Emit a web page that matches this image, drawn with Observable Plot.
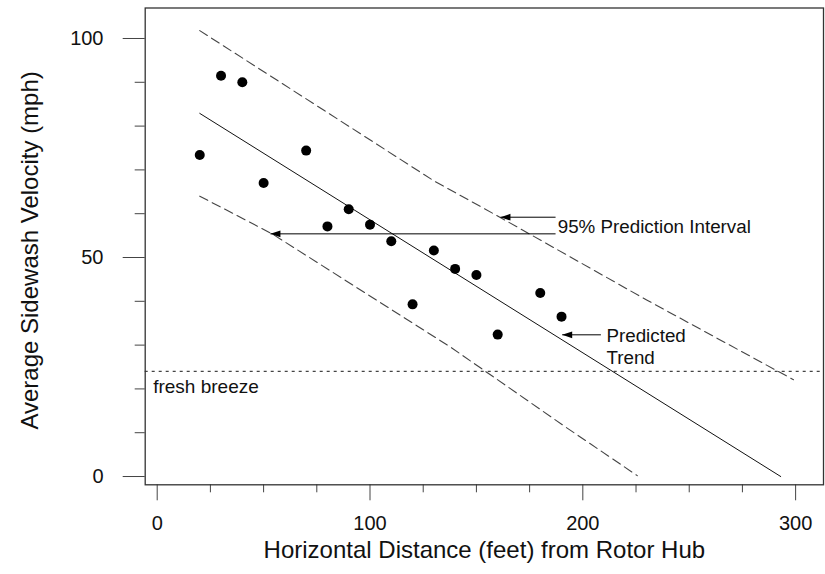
<!DOCTYPE html>
<html>
<head>
<meta charset="utf-8">
<script src="https://cdn.jsdelivr.net/npm/d3@7"></script>
<script src="https://cdn.jsdelivr.net/npm/@observablehq/plot@0.6"></script>
<style>
  html, body { margin: 0; padding: 0; background: #fff; }
  #chart { width: 825px; height: 574px; }
</style>
</head>
<body>
<div id="chart"></div>
<script>
// Observed data
const distance = [20, 30, 40, 50, 70, 80, 90, 100, 110, 120, 130, 140, 150, 160, 180, 190];
const velocity = [73.4, 91.5, 90.0, 67.0, 74.4, 57.1, 61.0, 57.5, 53.7, 39.3, 51.6, 47.4, 46.0, 32.4, 41.9, 36.5];

// Predicted trend
const trendX = [20, 293];
const trendY = [82.9, 0];

// 95% prediction interval bounds
const upperX = [20, 130, 161, 230, 299];
const upperY = [101.8, 67.5, 59.2, 40.3, 22.1];
const lowerX = [20, 54, 138, 191, 225.6];
const lowerY = [64.0, 55.4, 29.5, 11.6, 0.2];

// Reference level
const breezeLevel = 24;
const breezeLabel = "fresh breeze";

// Ticks
const xMajorTicks = [0, 100, 200, 300];
const xMinorTicks = [25, 50, 75, 125, 150, 175, 225, 250, 275];
const yMajorTicks = [0, 50, 100];
const yMinorTicks = [10, 20, 30, 40, 60, 70, 80, 90];

// Annotations
const arrowX1 = [187.2, 187.2, 208.5];
const arrowX2 = [161.3, 53.2, 190.3];
const arrowY = [59.2, 55.4, 32.35];
const noteText = ["95% Prediction Interval", "Predicted\nTrend"];
const noteX = [188.2, 211.1];
const noteY = [57.3, 29.84];

const xTitle = "Horizontal Distance (feet) from Rotor Hub";
const yTitle = "Average Sidewash Velocity (mph)";

const points = distance.map((d, i) => ({d, v: velocity[i]}));
const trend = trendX.map((d, i) => ({d, v: trendY[i]}));
const upper = upperX.map((d, i) => ({d, v: upperY[i]}));
const lower = lowerX.map((d, i) => ({d, v: lowerY[i]}));
const arrows = arrowX1.map((x1, i) => ({x1, x2: arrowX2[i], y: arrowY[i]}));
const notes = noteText.map((t, i) => ({t, x: noteX[i], y: noteY[i]}));

// left-pointing filled arrow head, tip at the anchor point
const leftHead = {
  draw(ctx, size) {
    const s = Math.sqrt(size / Math.PI);
    ctx.moveTo(0, 0);
    ctx.lineTo(2 * s, -0.68 * s);
    ctx.lineTo(2 * s, 0.68 * s);
    ctx.closePath();
  }
};

const font = "'Liberation Sans', Arial, Helvetica, sans-serif";

const chart = Plot.plot({
  width: 825,
  height: 574,
  marginLeft: 144.7,
  marginRight: 2,
  marginTop: 7.5,
  marginBottom: 89.7,
  style: {fontFamily: font, background: "#fff", color: "#111"},
  x: {domain: [-5.64, 313.1]},
  y: {domain: [-1.89, 106.96]},
  marks: [
    Plot.axisX(xMajorTicks, {tickSize: 16, tickPadding: 15, fontSize: 20, stroke: "#444", fill: "#111", label: null}),
    Plot.axisX(xMinorTicks, {tickSize: 8, text: null, stroke: "#444", label: null}),
    Plot.axisY(yMajorTicks, {tickSize: 22, tickPadding: 19.7, fontSize: 20, stroke: "#444", fill: "#111", label: null}),
    Plot.axisY(yMinorTicks, {tickSize: 10, text: null, stroke: "#444", label: null}),
    Plot.ruleY([breezeLevel], {stroke: "#444", strokeDasharray: "3,4", strokeWidth: 1.2}),
    Plot.text([breezeLabel], {x: -1.9, y: 20.5, text: d => d, textAnchor: "start", lineAnchor: "middle", fontSize: 19, fill: "#111"}),
    Plot.line(upper, {x: "d", y: "v", stroke: "#444", strokeDasharray: "9,5", strokeWidth: 1.1}),
    Plot.line(lower, {x: "d", y: "v", stroke: "#444", strokeDasharray: "9,5", strokeWidth: 1.1}),
    Plot.line(trend, {x: "d", y: "v", stroke: "#111", strokeWidth: 1}),
    Plot.dot(points, {x: "d", y: "v", r: 5, fill: "#000", stroke: "none"}),
    Plot.link(arrows, {x1: "x1", x2: "x2", y1: "y", y2: "y", stroke: "#000", strokeWidth: 1}),
    Plot.dot(arrows, {x: "x2", y: "y", symbol: leftHead, r: 5, fill: "#000", stroke: "none"}),
    Plot.text(notes, {x: "x", y: "y", text: "t", textAnchor: "start", lineAnchor: "middle", fontSize: 18.8, lineHeight: 1.2, fill: "#111"}),
    Plot.text([xTitle], {frameAnchor: "bottom", dy: 65.3, text: d => d, textAnchor: "middle", lineAnchor: "middle", fontSize: 24, fill: "#111"}),
    Plot.text([yTitle], {frameAnchor: "left", dx: -115, dy: 4, rotate: -90, text: d => d, textAnchor: "middle", lineAnchor: "middle", fontSize: 24, fill: "#111"}),
    Plot.frame({stroke: "#333", strokeWidth: 1.3})
  ]
});

document.getElementById("chart").appendChild(chart);
</script>
</body>
</html>
